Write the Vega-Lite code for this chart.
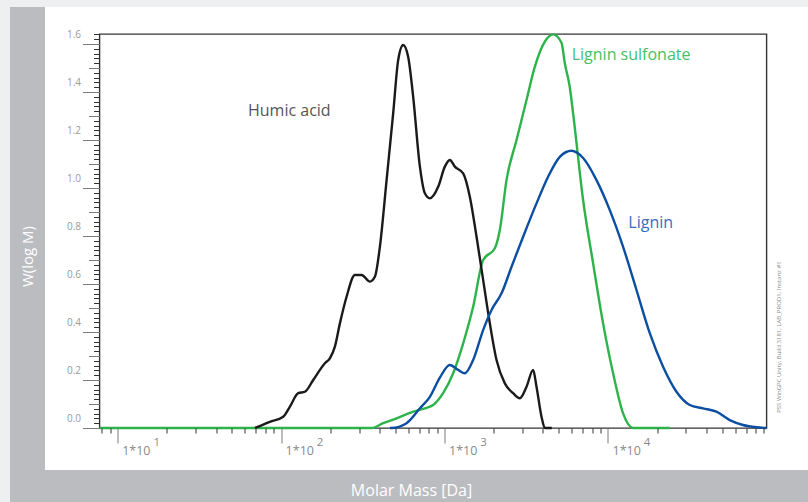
{
  "$schema": "https://vega.github.io/schema/vega-lite/v6.json",
  "width": 667,
  "height": 394,
  "autosize": {"type": "none"},
  "padding": {"left": 99.5, "top": 34, "right": 41.5, "bottom": 74},
  "background": "#ffffff",
  "config": {
    "view": {"stroke": "#333333", "strokeWidth": 1.4},
    "font": "Open Sans",
    "axis": {"grid": false}
  },
  "data": {
    "values": [
      {"series": "Lignin sulfonate", "M": 7.74, "W": 0},
      {"series": "Lignin sulfonate", "M": 358, "W": 0},
      {"series": "Lignin sulfonate", "M": 421, "W": 0.02},
      {"series": "Lignin sulfonate", "M": 509, "W": 0.04},
      {"series": "Lignin sulfonate", "M": 643, "W": 0.068},
      {"series": "Lignin sulfonate", "M": 758, "W": 0.082},
      {"series": "Lignin sulfonate", "M": 852, "W": 0.096},
      {"series": "Lignin sulfonate", "M": 980, "W": 0.145},
      {"series": "Lignin sulfonate", "M": 1129, "W": 0.228},
      {"series": "Lignin sulfonate", "M": 1300, "W": 0.353},
      {"series": "Lignin sulfonate", "M": 1496, "W": 0.505},
      {"series": "Lignin sulfonate", "M": 1722, "W": 0.7},
      {"series": "Lignin sulfonate", "M": 2031, "W": 0.749},
      {"series": "Lignin sulfonate", "M": 2179, "W": 0.825},
      {"series": "Lignin sulfonate", "M": 2394, "W": 1.033},
      {"series": "Lignin sulfonate", "M": 2757, "W": 1.2},
      {"series": "Lignin sulfonate", "M": 3173, "W": 1.367},
      {"series": "Lignin sulfonate", "M": 3566, "W": 1.505},
      {"series": "Lignin sulfonate", "M": 4108, "W": 1.61},
      {"series": "Lignin sulfonate", "M": 4616, "W": 1.64},
      {"series": "Lignin sulfonate", "M": 5195, "W": 1.605},
      {"series": "Lignin sulfonate", "M": 5442, "W": 1.52},
      {"series": "Lignin sulfonate", "M": 5839, "W": 1.42},
      {"series": "Lignin sulfonate", "M": 6118, "W": 1.311},
      {"series": "Lignin sulfonate", "M": 7042, "W": 0.95},
      {"series": "Lignin sulfonate", "M": 8108, "W": 0.686},
      {"series": "Lignin sulfonate", "M": 9333, "W": 0.436},
      {"series": "Lignin sulfonate", "M": 10745, "W": 0.228},
      {"series": "Lignin sulfonate", "M": 12373, "W": 0.061},
      {"series": "Lignin sulfonate", "M": 14240, "W": 0},
      {"series": "Lignin sulfonate", "M": 23880, "W": 0},
      {"series": "Humic acid", "M": 69.2, "W": 0},
      {"series": "Humic acid", "M": 85.4, "W": 0.026},
      {"series": "Humic acid", "M": 103, "W": 0.047},
      {"series": "Humic acid", "M": 113.2, "W": 0.089},
      {"series": "Humic acid", "M": 127.2, "W": 0.145},
      {"series": "Humic acid", "M": 139.8, "W": 0.151},
      {"series": "Humic acid", "M": 157.2, "W": 0.2},
      {"series": "Humic acid", "M": 185.3, "W": 0.27},
      {"series": "Humic acid", "M": 198.8, "W": 0.29},
      {"series": "Humic acid", "M": 213.3, "W": 0.339},
      {"series": "Humic acid", "M": 228.9, "W": 0.436},
      {"series": "Humic acid", "M": 251.5, "W": 0.547},
      {"series": "Humic acid", "M": 282.8, "W": 0.6375},
      {"series": "Humic acid", "M": 310.8, "W": 0.6375},
      {"series": "Humic acid", "M": 349.3, "W": 0.61},
      {"series": "Humic acid", "M": 374.7, "W": 0.63},
      {"series": "Humic acid", "M": 402.1, "W": 0.755},
      {"series": "Humic acid", "M": 441.9, "W": 1.033},
      {"series": "Humic acid", "M": 484.9, "W": 1.311},
      {"series": "Humic acid", "M": 520.3, "W": 1.533},
      {"series": "Humic acid", "M": 558.3, "W": 1.596},
      {"series": "Humic acid", "M": 598.8, "W": 1.547},
      {"series": "Humic acid", "M": 642.7, "W": 1.38},
      {"series": "Humic acid", "M": 706.3, "W": 1.09},
      {"series": "Humic acid", "M": 757.8, "W": 0.978},
      {"series": "Humic acid", "M": 813.1, "W": 0.957},
      {"series": "Humic acid", "M": 913.9, "W": 1.005},
      {"series": "Humic acid", "M": 1004, "W": 1.089},
      {"series": "Humic acid", "M": 1077.5, "W": 1.117},
      {"series": "Humic acid", "M": 1156, "W": 1.089},
      {"series": "Humic acid", "M": 1299.7, "W": 1.061},
      {"series": "Humic acid", "M": 1427.6, "W": 0.964},
      {"series": "Humic acid", "M": 1569.6, "W": 0.797},
      {"series": "Humic acid", "M": 1722.3, "W": 0.617},
      {"series": "Humic acid", "M": 1893, "W": 0.436},
      {"series": "Humic acid", "M": 2079.7, "W": 0.283},
      {"series": "Humic acid", "M": 2338, "W": 0.186},
      {"series": "Humic acid", "M": 2627, "W": 0.145},
      {"series": "Humic acid", "M": 2888, "W": 0.124},
      {"series": "Humic acid", "M": 3173, "W": 0.172},
      {"series": "Humic acid", "M": 3483, "W": 0.242},
      {"series": "Humic acid", "M": 3653, "W": 0.172},
      {"series": "Humic acid", "M": 3920, "W": 0.047},
      {"series": "Humic acid", "M": 4108, "W": 0},
      {"series": "Humic acid", "M": 4533, "W": 0},
      {"series": "Lignin", "M": 463, "W": 0},
      {"series": "Lignin", "M": 474, "W": 0},
      {"series": "Lignin", "M": 585.5, "W": 0.02},
      {"series": "Lignin", "M": 706.3, "W": 0.082},
      {"series": "Lignin", "M": 813.1, "W": 0.13},
      {"series": "Lignin", "M": 936.1, "W": 0.21},
      {"series": "Lignin", "M": 1077.5, "W": 0.2625},
      {"series": "Lignin", "M": 1211, "W": 0.242},
      {"series": "Lignin", "M": 1331, "W": 0.228},
      {"series": "Lignin", "M": 1496, "W": 0.283},
      {"series": "Lignin", "M": 1722, "W": 0.408},
      {"series": "Lignin", "M": 1939, "W": 0.492},
      {"series": "Lignin", "M": 2232, "W": 0.561},
      {"series": "Lignin", "M": 2570, "W": 0.672},
      {"series": "Lignin", "M": 3025, "W": 0.797},
      {"series": "Lignin", "M": 3653, "W": 0.936},
      {"series": "Lignin", "M": 4301, "W": 1.047},
      {"series": "Lignin", "M": 5073, "W": 1.13},
      {"series": "Lignin", "M": 5980, "W": 1.155},
      {"series": "Lignin", "M": 7042, "W": 1.125},
      {"series": "Lignin", "M": 8505, "W": 1.033},
      {"series": "Lignin", "M": 10257, "W": 0.908},
      {"series": "Lignin", "M": 12373, "W": 0.755},
      {"series": "Lignin", "M": 14940, "W": 0.575},
      {"series": "Lignin", "M": 18020, "W": 0.395},
      {"series": "Lignin", "M": 21730, "W": 0.255},
      {"series": "Lignin", "M": 26240, "W": 0.151},
      {"series": "Lignin", "M": 31650, "W": 0.096},
      {"series": "Lignin", "M": 38160, "W": 0.082},
      {"series": "Lignin", "M": 46080, "W": 0.068},
      {"series": "Lignin", "M": 55590, "W": 0.033},
      {"series": "Lignin", "M": 67040, "W": 0.0125},
      {"series": "Lignin", "M": 80950, "W": 0.003},
      {"series": "Lignin", "M": 93200, "W": 0}
    ]
  },
  "resolve": {"axis": {"x": "independent", "y": "independent"}},
  "layer": [
    {
      "data": {"values": [{}]},
      "mark": {"type": "rect", "fill": "#eeeff1", "clip": false},
      "encoding": {
        "x": {"datum": 1.905, "type": "quantitative", "scale": {"type": "log", "domain": [7.74, 93300], "nice": false}, "axis": null},
        "x2": {"datum": 167400},
        "y": {"datum": 1.7833, "type": "quantitative", "scale": {"domain": [0, 1.6417], "nice": false, "zero": false}, "axis": null},
        "y2": {"datum": 1.7542}
      }
    },
    {
      "data": {"values": [{}]},
      "mark": {"type": "rect", "fill": "#eeeff1", "clip": false},
      "encoding": {
        "x": {"datum": 1.905, "type": "quantitative", "scale": {"type": "log", "domain": [7.74, 93300], "nice": false}, "axis": null},
        "x2": {"datum": 2.193},
        "y": {"datum": 1.7833, "type": "quantitative", "scale": {"domain": [0, 1.6417], "nice": false, "zero": false}, "axis": null},
        "y2": {"datum": -0.3083}
      }
    },
    {
      "data": {"values": [{}]},
      "mark": {"type": "rect", "fill": "#bbbcc0", "clip": false},
      "encoding": {
        "x": {"datum": 2.193, "type": "quantitative", "scale": {"type": "log", "domain": [7.74, 93300], "nice": false}, "axis": null},
        "x2": {"datum": 3.592},
        "y": {"datum": 1.7542, "type": "quantitative", "scale": {"domain": [0, 1.6417], "nice": false, "zero": false}, "axis": null},
        "y2": {"datum": -0.3083}
      }
    },
    {
      "data": {"values": [{}]},
      "mark": {"type": "rect", "fill": "#bbbcc0", "clip": false},
      "encoding": {
        "x": {"datum": 2.193, "type": "quantitative", "scale": {"type": "log", "domain": [7.74, 93300], "nice": false}, "axis": null},
        "x2": {"datum": 167400},
        "y": {"datum": -0.175, "type": "quantitative", "scale": {"domain": [0, 1.6417], "nice": false, "zero": false}, "axis": null},
        "y2": {"datum": -0.3083}
      }
    },
    {
      "transform": [{"filter": "datum.series === 'Lignin sulfonate'"}],
      "mark": {"type": "line", "color": "#2db34a", "strokeWidth": 2.4, "interpolate": "monotone"},
      "encoding": {
        "x": {
          "field": "M", "type": "quantitative",
          "scale": {"type": "log", "domain": [7.74, 93300], "nice": false},
          "axis": {
            "orient": "bottom", "zindex": 1, "domain": false,
            "values": [8, 9, 10, 20, 30, 40, 50, 60, 70, 80, 90, 100, 200, 300, 400, 500, 600, 700, 800, 900, 1000, 2000, 3000, 4000, 5000, 6000, 7000, 8000, 9000, 10000, 20000, 30000, 40000, 50000, 60000, 70000, 80000, 90000],
            "tickSize": {"condition": {"test": "abs(log(datum.value)/LN10 - round(log(datum.value)/LN10)) < 0.0001", "value": 15}, "value": 5},
            "tickColor": {"condition": {"test": "abs(log(datum.value)/LN10 - round(log(datum.value)/LN10)) < 0.0001", "value": "#7a7a7a"}, "value": "#333333"},
            "tickWidth": 1,
            "labelExpr": "abs(log(datum.value)/LN10 - round(log(datum.value)/LN10)) < 0.0001 ? '1*10' : ''",
            "labelOverlap": false, "labelFlush": false, "labelBound": false,
            "labelAlign": "left", "labelOffset": 4, "labelBaseline": "alphabetic", "labelPadding": 11,
            "labelFontSize": 12.5, "labelColor": "#8a8a8a", "labelFont": "Open Sans",
            "title": "Molar Mass [Da]", "titleColor": "#ffffff", "titleFontSize": 16, "titleFontWeight": "normal", "titleFont": "Open Sans",
            "titleX": 311.5, "titleY": 62, "titleAlign": "center", "titleBaseline": "middle", "titleAngle": 0
          }
        },
        "y": {
          "field": "W", "type": "quantitative",
          "scale": {"domain": [0, 1.6417], "nice": false, "zero": false},
          "axis": {
            "orient": "left", "zindex": 1, "domain": false,
            "values": [0, 0.02, 0.04, 0.06, 0.08, 0.1, 0.12, 0.14, 0.16, 0.18, 0.2, 0.22, 0.24, 0.26, 0.28, 0.3, 0.32, 0.34, 0.36, 0.38, 0.4, 0.42, 0.44, 0.46, 0.48, 0.5, 0.52, 0.54, 0.56, 0.58, 0.6, 0.62, 0.64, 0.66, 0.68, 0.7, 0.72, 0.74, 0.76, 0.78, 0.8, 0.82, 0.84, 0.86, 0.88, 0.9, 0.92, 0.94, 0.96, 0.98, 1.0, 1.02, 1.04, 1.06, 1.08, 1.1, 1.12, 1.14, 1.16, 1.18, 1.2, 1.22, 1.24, 1.26, 1.28, 1.3, 1.32, 1.34, 1.36, 1.38, 1.4, 1.42, 1.44, 1.46, 1.48, 1.5, 1.52, 1.54, 1.56, 1.58, 1.6, 1.62, 1.64],
            "tickSize": {"condition": [
              {"test": "abs(datum.value*5 - round(datum.value*5)) < 0.001", "value": 17},
              {"test": "abs(datum.value*10 - round(datum.value*10)) < 0.001", "value": 11}
            ], "value": 6},
            "tickColor": {"condition": {"test": "abs(datum.value*10 - round(datum.value*10)) < 0.001", "value": "#7a7a7a"}, "value": "#333333"},
            "tickWidth": 1,
            "labelExpr": "abs(datum.value*5 - round(datum.value*5)) < 0.001 ? format(datum.value, '.1f') : ''",
            "labelOverlap": false, "labelFlush": false, "labelBound": false,
            "labelAlign": "right", "labelBaseline": "middle", "labelOffset": -10, "labelPadding": 2,
            "labelFontSize": 10, "labelColor": "#9a9a9a", "labelFont": "Open Sans",
            "title": "W(log M)", "titleColor": "#ffffff", "titleFontSize": 15, "titleFontWeight": "normal", "titleFont": "Open Sans",
            "titleX": -72.5, "titleY": 222, "titleAlign": "center", "titleBaseline": "middle", "titleAngle": -90
          }
        }
      }
    },
    {
      "transform": [{"filter": "datum.series === 'Humic acid'"}],
      "mark": {"type": "line", "color": "#1a1a1a", "strokeWidth": 2.4, "interpolate": "monotone"},
      "encoding": {
        "x": {
          "field": "M", "type": "quantitative",
          "scale": {"type": "log", "domain": [7.74, 93300], "nice": false},
          "axis": {
            "orient": "bottom", "zindex": 1, "domain": false, "ticks": false, "tickSize": 0,
            "values": [10, 100, 1000, 10000],
            "labelExpr": "'' + round(log(datum.value)/LN10)",
            "labelOverlap": false, "labelFlush": false, "labelBound": false,
            "labelAlign": "center", "labelOffset": 38.5, "labelBaseline": "alphabetic", "labelPadding": 17,
            "labelFontSize": 11.5, "labelColor": "#8a8a8a", "labelFont": "Open Sans",
            "title": null
          }
        },
        "y": {"field": "W", "type": "quantitative", "scale": {"domain": [0, 1.6417], "nice": false, "zero": false}, "axis": null}
      }
    },
    {
      "transform": [{"filter": "datum.series === 'Lignin'"}],
      "mark": {"type": "line", "color": "#0b4ea2", "strokeWidth": 2.4, "interpolate": "monotone"},
      "encoding": {
        "x": {"field": "M", "type": "quantitative", "scale": {"type": "log", "domain": [7.74, 93300], "nice": false}, "axis": null},
        "y": {"field": "W", "type": "quantitative", "scale": {"domain": [0, 1.6417], "nice": false, "zero": false}, "axis": null}
      }
    },
    {
      "data": {"values": [{}]},
      "mark": {"type": "text", "text": "Humic acid", "align": "left", "baseline": "middle", "fontSize": 16, "color": "#555555", "font": "Open Sans"},
      "encoding": {
        "x": {"datum": 62.7, "type": "quantitative", "scale": {"type": "log", "domain": [7.74, 93300], "nice": false}, "axis": null},
        "y": {"datum": 1.3208, "type": "quantitative", "scale": {"domain": [0, 1.6417], "nice": false, "zero": false}, "axis": null}
      }
    },
    {
      "data": {"values": [{}]},
      "mark": {"type": "text", "text": "Lignin sulfonate", "align": "left", "baseline": "middle", "fontSize": 16, "color": "#45bf63", "font": "Open Sans"},
      "encoding": {
        "x": {"datum": 5998, "type": "quantitative", "scale": {"type": "log", "domain": [7.74, 93300], "nice": false}, "axis": null},
        "y": {"datum": 1.554, "type": "quantitative", "scale": {"domain": [0, 1.6417], "nice": false, "zero": false}, "axis": null}
      }
    },
    {
      "data": {"values": [{}]},
      "mark": {"type": "text", "text": "Lignin", "align": "left", "baseline": "middle", "fontSize": 16, "color": "#3a6cbf", "font": "Open Sans"},
      "encoding": {
        "x": {"datum": 13315, "type": "quantitative", "scale": {"type": "log", "domain": [7.74, 93300], "nice": false}, "axis": null},
        "y": {"datum": 0.8555, "type": "quantitative", "scale": {"domain": [0, 1.6417], "nice": false, "zero": false}, "axis": null}
      }
    },
    {
      "data": {"values": [{}]},
      "mark": {"type": "text", "text": "PSS WinGPC Unity, Build 3181, LAB_PROD1, Instanz #1", "align": "center", "baseline": "middle", "angle": 270, "fontSize": 6, "color": "#8a8a8a", "font": "Open Sans"},
      "encoding": {
        "x": {"datum": 111300, "type": "quantitative", "scale": {"type": "log", "domain": [7.74, 93300], "nice": false}, "axis": null},
        "y": {"datum": 0.379, "type": "quantitative", "scale": {"domain": [0, 1.6417], "nice": false, "zero": false}, "axis": null}
      }
    }
  ]
}
